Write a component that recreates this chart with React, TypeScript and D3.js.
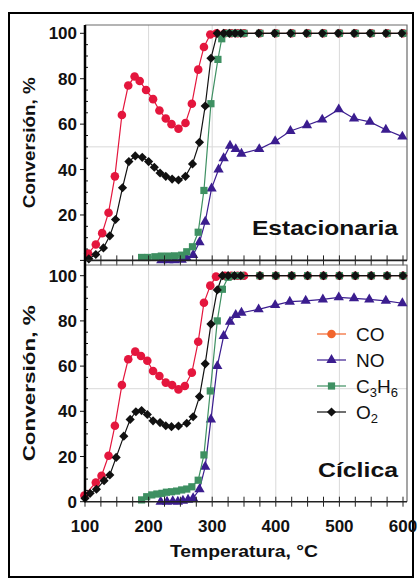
import * as d3 from 'd3';

// Estacionaria (top panel)
const coTempEst = [105, 117, 127, 137, 147, 158, 168, 178, 186, 196, 207, 217, 227, 236, 247, 258, 268, 278, 287, 297, 307, 320, 330, 340, 350, 375, 400, 425, 450, 475, 500, 525, 550, 575, 600];
const coEst = [3, 7, 12, 21, 37, 64, 77, 81, 79, 75, 71, 66, 62.5, 60, 58, 60.5, 69, 84, 94, 99.5, 100, 100, 100, 100, 100, 100, 100, 100, 100, 100, 100, 100, 100, 100, 100];
const noTempEst = [220, 231, 241, 252, 260, 270, 280, 289, 299, 310, 318, 328, 337, 346, 374, 399, 423, 449, 473, 499, 523, 548, 573, 599];
const noEst = [0, 0, 0, 0.3, 1, 2.4, 8, 17, 31.7, 40, 45, 50.5, 49, 47, 49, 52.5, 57, 59.5, 62, 66.5, 62.5, 61, 57.5, 54.5];
const c3TempEst = [189, 199, 210, 220, 231, 241, 252, 260, 269, 278, 287, 298, 309, 315, 322, 330, 340, 350, 375, 400, 425, 450, 475, 500, 525, 550, 575, 600];
const c3Est = [1.3, 1.3, 1.6, 1.9, 1.9, 2, 2.3, 3.8, 6, 12.4, 30.8, 69, 88.5, 97.6, 100, 100, 100, 100, 100, 100, 100, 100, 100, 100, 100, 100, 100, 100];
const o2TempEst = [106, 117, 129, 139, 148, 159, 169, 179, 190, 200, 209, 218, 227, 237, 247, 258, 269, 280, 289, 298, 308, 318, 327, 336, 345, 373, 398, 423, 448, 473, 498, 523, 548, 573, 598];
const o2Est = [0.7, 2.6, 5.5, 10.8, 18, 32, 43.5, 46, 45.4, 43.5, 41, 38.5, 37, 35.8, 35.4, 37, 42.5, 52, 68, 89, 100, 100, 100, 100, 100, 100, 100, 100, 100, 100, 100, 100, 100, 100, 100];

// Cíclica (bottom panel)
const coTempCic = [99, 117, 126, 137, 147, 158, 168, 179, 188, 198, 207, 217, 227, 237, 247, 257, 268, 278, 287, 297, 306, 320, 330, 340, 350, 375, 400, 425, 450, 475, 500, 525, 550, 575, 600];
const coCic = [2.7, 8.5, 11.5, 20.3, 33.6, 51.6, 63, 66.4, 64.5, 62.4, 57.8, 55.6, 52.7, 51.6, 49.7, 51.2, 57.1, 70.8, 88, 95.6, 99.6, 100, 100, 100, 100, 100, 100, 100, 100, 100, 100, 100, 100, 100, 100];
const noTempCic = [219, 229, 238, 246, 254, 262, 270, 280, 289, 298, 308, 318, 328, 337, 346, 373, 399, 422, 447, 474, 499, 523, 547, 573, 599];
const noCic = [0, 0, 0.2, 0, 0.4, 0.9, 1.5, 5.5, 15.5, 36.4, 60, 73.3, 79.6, 82.6, 83.6, 85.1, 87, 88.5, 88.9, 89.5, 90.4, 90, 89.5, 88.9, 87.8];
const c3TempCic = [189, 197, 205, 213, 221, 228, 236, 244, 252, 260, 268, 278, 287, 297, 308, 316, 325, 335, 345, 375, 400, 425, 450, 475, 500, 525, 550, 575, 600];
const c3Cic = [0.8, 2.2, 3, 3.4, 3.7, 4.2, 4.4, 4.7, 5.2, 5.6, 6.6, 9.5, 20.7, 49, 80, 94, 99.3, 100, 100, 100, 100, 100, 100, 100, 100, 100, 100, 100, 100];
const o2TempCic = [100, 108, 118, 130, 139, 149, 161, 171, 180, 189, 198, 207, 218, 227, 236, 247, 260, 270, 280, 289, 298, 308, 316, 325, 335, 345, 375, 400, 425, 450, 475, 500, 525, 550, 575, 600];
const o2Cic = [1.5, 3.7, 5.5, 9.3, 11.8, 19.6, 29, 36.4, 39.8, 40.3, 38.6, 35.8, 35, 33.6, 33.2, 33.5, 34.7, 37.6, 46.5, 61, 78.6, 93.7, 100, 100, 100, 100, 100, 100, 100, 100, 100, 100, 100, 100, 100, 100];

const xTicks = [100, 200, 300, 400, 500, 600];
const gridX = [200, 300, 400, 500];
const yTicksEst = [20, 40, 60, 80, 100];
const yTicksCic = [0, 20, 40, 60, 80, 100];
const legendNames = ['CO', 'NO', 'C3H6', 'O2'];

const FONT = 'Liberation Sans, Arial, Helvetica, sans-serif';
const RED = '#e4163d';
const PURPLE = '#3b1d8f';
const GREEN = '#3e9062';
const BLACK = '#111111';
const ORANGE = '#f2652c';

const x = d3.scaleLinear().domain([100, 600]).range([85, 403]);
const xMinor = d3.range(100, 601, 25);
const yMinor = d3.range(0, 101, 5);

type Series = { t: number[]; v: number[]; color: string; shape: string };

function marker(shape: string) {
  if (shape === 'circle') return d3.symbol(d3.symbolCircle, 58)();
  if (shape === 'triangle') return d3.symbol(d3.symbolTriangle, 46)();
  if (shape === 'square') return d3.symbol(d3.symbolSquare, 52)();
  return d3.symbol(d3.symbolSquare, 42)();
}

function Marker(props: { shape: string; color: string; cx: number; cy: number }) {
  const rot = props.shape === 'diamond' ? ' rotate(45)' : '';
  return <path d={marker(props.shape)!} fill={props.color}
    transform={`translate(${props.cx},${props.cy})${rot}`} />;
}

function Panel(props: { top: number; zero: number; hundred: number; series: Series[]; ticks: number[]; title: string; titleY: number; titleLen: number; labelLen: number; xLabels: boolean }) {
  const y = d3.scaleLinear().domain([0, 100]).range([props.zero, props.hundred]);
  const line = d3.line<[number, number]>().x(d => x(d[0])).y(d => y(d[1]));
  const mid = (props.top + props.zero) / 2;
  return (
    <g>
      {gridX.map(g => (
        <line key={g} x1={x(g)} x2={x(g)} y1={props.top} y2={props.zero} stroke="#d9d9d9" strokeWidth={1} />
      ))}
      <line x1={85} x2={407} y1={y(50)} y2={y(50)} stroke="#d9d9d9" strokeWidth={1} />
      <path d={`M85,${props.top}H407V${props.zero}`} fill="none" stroke="#6a6a6a" strokeWidth={1.2} />
      {props.series.map((s, i) => (
        <g key={i}>
          <path d={line(s.t.map((t, k) => [t, s.v[k]] as [number, number]))!} fill="none" stroke={s.color} strokeWidth={1.2} />
          {s.t.map((t, k) => <Marker key={k} shape={s.shape} color={s.color} cx={x(t)} cy={y(s.v[k])} />)}
        </g>
      ))}
      <line x1={85} x2={407} y1={props.zero} y2={props.zero} stroke="#222" strokeWidth={1.6} />
      {xMinor.map(t => (
        <line key={t} x1={x(t)} x2={x(t)} y1={props.zero - 5} y2={props.zero + 5} stroke="#222" strokeWidth={1} />
      ))}
      {yMinor.map(v => (
        <line key={v} x1={85} x2={v % 20 === 0 ? 80 : 88} y1={y(v)} y2={y(v)} stroke="#111" strokeWidth={1} />
      ))}
      {props.ticks.map(v => (
        <text key={v} x={77} y={y(v)} dy="0.36em" textAnchor="end" fontFamily={FONT} fontWeight="bold" fontSize={17} fill="#111">{v}</text>
      ))}
      {props.xLabels && xTicks.map(t => (
        <text key={t} x={x(t)} y={532} textAnchor="middle" fontFamily={FONT} fontWeight="bold" fontSize={17} fill="#111">{t}</text>
      ))}
      <text transform={`translate(35,${mid}) rotate(-90)`} textAnchor="middle" fontFamily={FONT} fontWeight="bold" fontSize={16}
        textLength={props.labelLen} lengthAdjust="spacingAndGlyphs" fill="#111">Conversión, %</text>
      <text x={398} y={props.titleY} textAnchor="end" fontFamily={FONT} fontWeight="bold" fontSize={21}
        textLength={props.titleLen} lengthAdjust="spacingAndGlyphs" fill="#111">{props.title}</text>
    </g>
  );
}

export default function App() {
  const est: Series[] = [
    { t: coTempEst, v: coEst, color: RED, shape: 'circle' },
    { t: noTempEst, v: noEst, color: PURPLE, shape: 'triangle' },
    { t: c3TempEst, v: c3Est, color: GREEN, shape: 'square' },
    { t: o2TempEst, v: o2Est, color: BLACK, shape: 'diamond' },
  ];
  const cic: Series[] = [
    { t: coTempCic, v: coCic, color: RED, shape: 'circle' },
    { t: noTempCic, v: noCic, color: PURPLE, shape: 'triangle' },
    { t: c3TempCic, v: c3Cic, color: GREEN, shape: 'square' },
    { t: o2TempCic, v: o2Cic, color: BLACK, shape: 'diamond' },
  ];
  const legend = [
    { color: ORANGE, shape: 'circle' },
    { color: PURPLE, shape: 'triangle' },
    { color: GREEN, shape: 'square' },
    { color: BLACK, shape: 'diamond' },
  ];
  const legendY = [334, 360, 386, 412];
  return (
    <svg width={420} height={581} style={{ position: 'absolute', left: 0, top: 0, background: '#fff' }}>
      <rect x={9} y={13} width={404} height={564} fill="#fff" stroke="#000" strokeWidth={2} />
      <Panel top={25} zero={260.4} hundred={33.3} series={est} ticks={yTicksEst} title="Estacionaria" titleY={235} titleLen={146} labelLen={131} xLabels={false} />
      <Panel top={265} zero={501.7} hundred={275.7} series={cic} ticks={yTicksCic} title="Cíclica" titleY={477} titleLen={80} labelLen={156} xLabels={true} />
      <line x1={85} x2={85} y1={25} y2={501.7} stroke="#000" strokeWidth={2.5} />
      <text x={244} y={557} textAnchor="middle" fontFamily={FONT} fontWeight="bold" fontSize={16}
        textLength={148} lengthAdjust="spacingAndGlyphs" fill="#111">Temperatura, °C</text>
      {legend.map((l, i) => (
        <g key={i}>
          <line x1={317} x2={346} y1={legendY[i]} y2={legendY[i]} stroke={l.color} strokeWidth={1.2} />
          <Marker shape={l.shape} color={l.color} cx={331.5} cy={legendY[i]} />
          <text x={356} y={legendY[i]} dy="0.36em" fontFamily={'Liberation Sans Narrow, Arial Narrow, ' + FONT} fontSize={19} fill="#111">
            {legendNames[i] === 'C3H6' ? (
              <>C<tspan dy={4} fontSize={13}>3</tspan><tspan dy={-4}>H</tspan><tspan dy={4} fontSize={13}>6</tspan></>
            ) : legendNames[i] === 'O2' ? (
              <>O<tspan dy={4} fontSize={13}>2</tspan></>
            ) : legendNames[i]}
          </text>
        </g>
      ))}
    </svg>
  );
}
